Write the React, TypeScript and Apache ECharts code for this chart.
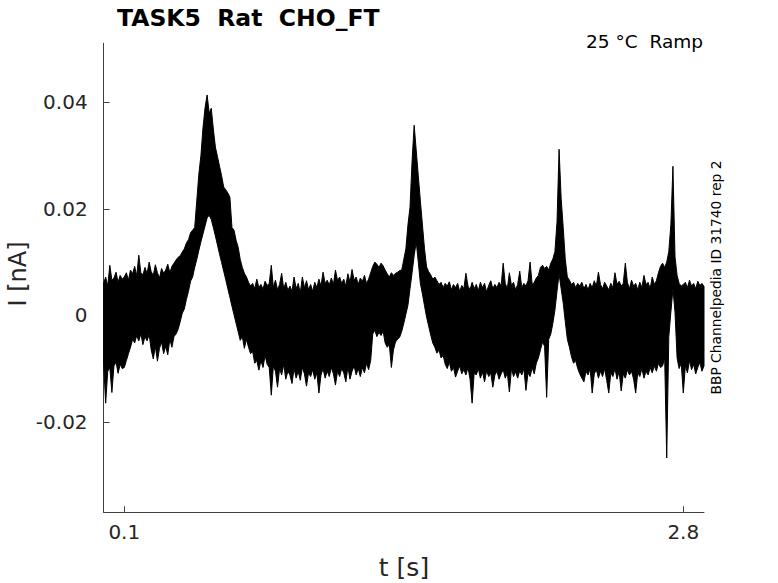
import React, { useEffect, useRef } from "react";
import * as echarts from "echarts";

// Sample times [s]
const T = [
  0.00, 0.01, 0.02, 0.03, 0.04, 0.05, 0.06, 0.07, 0.08, 0.09,
  0.10, 0.11, 0.12, 0.13, 0.14, 0.15, 0.16, 0.17, 0.18, 0.19,
  0.20, 0.21, 0.22, 0.23, 0.24, 0.25, 0.26, 0.27, 0.28, 0.29,
  0.30, 0.31, 0.32, 0.33, 0.34, 0.35, 0.36, 0.37, 0.38, 0.39,
  0.40, 0.41, 0.42, 0.43, 0.44, 0.45, 0.46, 0.47, 0.48, 0.49,
  0.50, 0.51, 0.52, 0.53, 0.54, 0.55, 0.56, 0.57, 0.58, 0.59,
  0.60, 0.61, 0.62, 0.63, 0.64, 0.65, 0.66, 0.67, 0.68, 0.69,
  0.70, 0.71, 0.72, 0.73, 0.74, 0.75, 0.76, 0.77, 0.78, 0.79,
  0.80, 0.81, 0.82, 0.83, 0.84, 0.85, 0.86, 0.87, 0.88, 0.89,
  0.90, 0.91, 0.92, 0.93, 0.94, 0.95, 0.96, 0.97, 0.98, 0.99,
  1.00, 1.01, 1.02, 1.03, 1.04, 1.05, 1.06, 1.07, 1.08, 1.09,
  1.10, 1.11, 1.12, 1.13, 1.14, 1.15, 1.16, 1.17, 1.18, 1.19,
  1.20, 1.21, 1.22, 1.23, 1.24, 1.25, 1.26, 1.27, 1.28, 1.29,
  1.30, 1.31, 1.32, 1.33, 1.34, 1.35, 1.36, 1.37, 1.38, 1.39,
  1.40, 1.41, 1.42, 1.43, 1.44, 1.45, 1.46, 1.47, 1.48, 1.49,
  1.50, 1.51, 1.52, 1.53, 1.54, 1.55, 1.56, 1.57, 1.58, 1.59,
  1.60, 1.61, 1.62, 1.63, 1.64, 1.65, 1.66, 1.67, 1.68, 1.69,
  1.70, 1.71, 1.72, 1.73, 1.74, 1.75, 1.76, 1.77, 1.78, 1.79,
  1.80, 1.81, 1.82, 1.83, 1.84, 1.85, 1.86, 1.87, 1.88, 1.89,
  1.90, 1.91, 1.92, 1.93, 1.94, 1.95, 1.96, 1.97, 1.98, 1.99,
  2.00, 2.01, 2.02, 2.03, 2.04, 2.05, 2.06, 2.07, 2.08, 2.09,
  2.10, 2.11, 2.12, 2.13, 2.14, 2.15, 2.16, 2.17, 2.18, 2.19,
  2.20, 2.21, 2.22, 2.23, 2.24, 2.25, 2.26, 2.27, 2.28, 2.29,
  2.30, 2.31, 2.32, 2.33, 2.34, 2.35, 2.36, 2.37, 2.38, 2.39,
  2.40, 2.41, 2.42, 2.43, 2.44, 2.45, 2.46, 2.47, 2.48, 2.49,
  2.50, 2.51, 2.52, 2.53, 2.54, 2.55, 2.56, 2.57, 2.58, 2.59,
  2.60, 2.61, 2.62, 2.63, 2.64, 2.65, 2.66, 2.67, 2.68, 2.69,
  2.70, 2.71, 2.72, 2.73, 2.74, 2.75, 2.76, 2.77, 2.78, 2.79,
  2.80, 2.81, 2.82, 2.83, 2.84, 2.85, 2.86, 2.87, 2.88, 2.89, 2.90,
];

// Upper edge of the noisy current trace [nA]
const UPPER = [
  0.0060, 0.0072, 0.0055, 0.0094, 0.0066, 0.0070, 0.0081, 0.0062, 0.0075, 0.0068,
  0.0072, 0.0080, 0.0066, 0.0085, 0.0078, 0.0092, 0.0074, 0.0113, 0.0080, 0.0076,
  0.0090, 0.0078, 0.0100, 0.0082, 0.0075, 0.0095, 0.0080, 0.0070, 0.0088, 0.0079,
  0.0085, 0.0096, 0.0080, 0.0092, 0.0098, 0.0104, 0.0109, 0.0112, 0.0119, 0.0125,
  0.0136, 0.0142, 0.0155, 0.0160, 0.0165, 0.0215, 0.0265, 0.0300, 0.0352, 0.0390,
  0.0414, 0.0380, 0.0389, 0.0350, 0.0316, 0.0298, 0.0280, 0.0262, 0.0241, 0.0236,
  0.0230, 0.0222, 0.0165, 0.0160, 0.0141, 0.0128, 0.0105, 0.0090, 0.0079, 0.0072,
  0.0062, 0.0055, 0.0060, 0.0050, 0.0068, 0.0052, 0.0058, 0.0049, 0.0064, 0.0056,
  0.0060, 0.0094, 0.0052, 0.0066, 0.0048, 0.0058, 0.0079, 0.0050, 0.0062, 0.0047,
  0.0055, 0.0045, 0.0072, 0.0050, 0.0060, 0.0042, 0.0072, 0.0052, 0.0065, 0.0048,
  0.0058, 0.0045, 0.0062, 0.0052, 0.0068, 0.0055, 0.0081, 0.0060, 0.0066, 0.0057,
  0.0070, 0.0058, 0.0085, 0.0065, 0.0072, 0.0060, 0.0068, 0.0055, 0.0078, 0.0062,
  0.0086, 0.0066, 0.0072, 0.0058, 0.0070, 0.0064, 0.0075, 0.0060, 0.0068, 0.0080,
  0.0092, 0.0100, 0.0096, 0.0090, 0.0098, 0.0093, 0.0085, 0.0078, 0.0072, 0.0080,
  0.0075, 0.0079, 0.0081, 0.0084, 0.0085, 0.0105, 0.0125, 0.0170, 0.0203, 0.0290,
  0.0357, 0.0310, 0.0262, 0.0215, 0.0170, 0.0125, 0.0091, 0.0082, 0.0076, 0.0068,
  0.0072, 0.0065, 0.0058, 0.0062, 0.0052, 0.0060, 0.0055, 0.0063, 0.0048, 0.0058,
  0.0052, 0.0060, 0.0045, 0.0056, 0.0050, 0.0079, 0.0055, 0.0048, 0.0062, 0.0050,
  0.0058, 0.0046, 0.0062, 0.0052, 0.0060, 0.0044, 0.0056, 0.0065, 0.0050, 0.0058,
  0.0052, 0.0062, 0.0055, 0.0098, 0.0060, 0.0050, 0.0080, 0.0056, 0.0062, 0.0048,
  0.0058, 0.0083, 0.0052, 0.0060, 0.0055, 0.0065, 0.0100, 0.0058, 0.0062, 0.0070,
  0.0075, 0.0090, 0.0094, 0.0088, 0.0092, 0.0085, 0.0098, 0.0106, 0.0120, 0.0175,
  0.0312, 0.0220, 0.0165, 0.0105, 0.0072, 0.0066, 0.0058, 0.0062, 0.0052, 0.0060,
  0.0055, 0.0062, 0.0050, 0.0058, 0.0048, 0.0060, 0.0052, 0.0065, 0.0055, 0.0081,
  0.0058, 0.0050, 0.0062, 0.0055, 0.0048, 0.0060, 0.0052, 0.0080, 0.0058, 0.0064,
  0.0055, 0.0060, 0.0098, 0.0062, 0.0050, 0.0066, 0.0055, 0.0060, 0.0048, 0.0062,
  0.0052, 0.0075, 0.0058, 0.0062, 0.0050, 0.0072, 0.0058, 0.0065, 0.0080, 0.0092,
  0.0098, 0.0090, 0.0100, 0.0120, 0.0170, 0.0280, 0.0110, 0.0075, 0.0060, 0.0055,
  0.0058, 0.0062, 0.0052, 0.0066, 0.0055, 0.0060, 0.0050, 0.0064, 0.0056, 0.0060, 0.0054,
];

// Lower edge of the noisy current trace [nA]
const LOWER = [
  -0.0090, -0.0165, -0.0105, -0.0098, -0.0145, -0.0095, -0.0088, -0.0109, -0.0092, -0.0100,
  -0.0098, -0.0085, -0.0072, -0.0060, -0.0045, -0.0052, -0.0038, -0.0048, -0.0035, -0.0055,
  -0.0040, -0.0048, -0.0036, -0.0065, -0.0082, -0.0058, -0.0086, -0.0062, -0.0050, -0.0072,
  -0.0058, -0.0074, -0.0045, -0.0060, -0.0040, -0.0035, -0.0026, -0.0012, 0.0004, 0.0012,
  0.0030, 0.0045, 0.0064, 0.0072, 0.0090, 0.0105, 0.0122, 0.0138, 0.0153, 0.0168,
  0.0183, 0.0188, 0.0180, 0.0165, 0.0149, 0.0132, 0.0115, 0.0099, 0.0083, 0.0067,
  0.0050, 0.0034, 0.0017, 0.0001, -0.0015, -0.0031, -0.0047, -0.0040, -0.0062, -0.0045,
  -0.0060, -0.0072, -0.0068, -0.0090, -0.0085, -0.0103, -0.0085, -0.0098, -0.0075, -0.0092,
  -0.0098, -0.0150, -0.0095, -0.0105, -0.0135, -0.0100, -0.0112, -0.0092, -0.0120, -0.0105,
  -0.0112, -0.0128, -0.0100, -0.0118, -0.0105, -0.0122, -0.0098, -0.0110, -0.0133, -0.0108,
  -0.0115, -0.0102, -0.0120, -0.0108, -0.0146, -0.0112, -0.0100, -0.0118, -0.0105, -0.0115,
  -0.0098, -0.0110, -0.0131, -0.0105, -0.0115, -0.0100, -0.0108, -0.0125, -0.0097, -0.0120,
  -0.0105, -0.0095, -0.0112, -0.0100, -0.0115, -0.0098, -0.0108, -0.0090, -0.0102, -0.0085,
  -0.0035, -0.0028, -0.0040, -0.0032, -0.0038, -0.0030, -0.0052, -0.0060, -0.0055, -0.0098,
  -0.0065, -0.0050, -0.0045, -0.0041, -0.0030, -0.0015, 0.0002, 0.0019, 0.0050, 0.0080,
  0.0112, 0.0138, 0.0100, 0.0060, 0.0040, 0.0018, -0.0003, -0.0020, -0.0037, -0.0052,
  -0.0060, -0.0071, -0.0065, -0.0080, -0.0075, -0.0092, -0.0100, -0.0088, -0.0105, -0.0098,
  -0.0116, -0.0105, -0.0095, -0.0110, -0.0102, -0.0112, -0.0098, -0.0120, -0.0165, -0.0108,
  -0.0112, -0.0100, -0.0118, -0.0106, -0.0125, -0.0104, -0.0115, -0.0108, -0.0135, -0.0112,
  -0.0105, -0.0120, -0.0110, -0.0102, -0.0118, -0.0108, -0.0144, -0.0100, -0.0115, -0.0106,
  -0.0118, -0.0104, -0.0112, -0.0100, -0.0141, -0.0108, -0.0115, -0.0098, -0.0110, -0.0090,
  -0.0080, -0.0065, -0.0050, -0.0058, -0.0154, -0.0045, -0.0035, -0.0015, 0.0010, 0.0045,
  0.0078, 0.0050, 0.0023, -0.0012, -0.0045, -0.0060, -0.0078, -0.0090, -0.0085, -0.0100,
  -0.0110, -0.0118, -0.0125, -0.0105, -0.0112, -0.0100, -0.0146, -0.0110, -0.0102, -0.0118,
  -0.0105, -0.0115, -0.0100, -0.0122, -0.0146, -0.0108, -0.0115, -0.0100, -0.0120, -0.0105,
  -0.0142, -0.0110, -0.0118, -0.0102, -0.0112, -0.0105, -0.0120, -0.0146, -0.0108, -0.0115,
  -0.0100, -0.0118, -0.0105, -0.0112, -0.0098, -0.0108, -0.0095, -0.0105, -0.0090, -0.0098,
  -0.0095, -0.0080, -0.0268, -0.0040, 0.0006, 0.0050, 0.0006, -0.0080, -0.0100, -0.0090,
  -0.0146, -0.0095, -0.0108, -0.0085, -0.0102, -0.0092, -0.0110, -0.0098, -0.0088, -0.0105, -0.0095,
];

const X_TICKS = [0.1, 2.8];
const Y_TICKS = [-0.02, 0, 0.02, 0.04];

const TITLE = "TASK5  Rat  CHO_FT";
const SUBTITLE = "25 °C  Ramp";
const SIDE_NOTE = "BBP Channelpedia ID 31740 rep 2";
const X_NAME = "t [s]";
const Y_NAME = "I [nA]";

const FONT = "DejaVu Sans";
const AXIS_COLOR = "#404040";
const TEXT_COLOR = "#262626";

export default function App() {
  const ref = useRef<HTMLDivElement>(null);

  useEffect(() => {
    if (!ref.current) return;
    const chart = echarts.init(ref.current, null, { renderer: "svg" });
    const data = T.map((t, i) => [t, UPPER[i], LOWER[i]]);

    const renderItem = (params: any, api: any) => {
      if (params.dataIndex !== 0) return null;
      const pts: number[][] = [];
      for (let i = 0; i < T.length; i++) pts.push(api.coord([T[i], UPPER[i]]));
      for (let i = T.length - 1; i >= 0; i--) pts.push(api.coord([T[i], LOWER[i]]));
      return {
        type: "polygon",
        shape: { points: pts },
        style: { fill: "#000", stroke: "#000", lineWidth: 1, lineJoin: "bevel" },
      };
    };

    chart.setOption({
      animation: false,
      backgroundColor: "#ffffff",
      grid: { left: 103.6, top: 43.3, width: 600.4, height: 469, containLabel: false },
      xAxis: {
        type: "value",
        min: 0,
        max: 2.9,
        axisLine: { show: true, onZero: false, lineStyle: { color: AXIS_COLOR, width: 1 } },
        axisTick: {
          show: true,
          inside: true,
          length: 6,
          customValues: X_TICKS,
          lineStyle: { color: AXIS_COLOR, width: 1 },
        },
        axisLabel: {
          show: true,
          customValues: X_TICKS,
          fontSize: 20,
          fontFamily: FONT,
          color: TEXT_COLOR,
          margin: 10,
          formatter: (v: number) => String(v),
        },
        splitLine: { show: false },
      },
      yAxis: {
        type: "value",
        min: -0.037,
        max: 0.0511,
        axisLine: { show: true, onZero: false, lineStyle: { color: AXIS_COLOR, width: 1 } },
        axisTick: {
          show: true,
          inside: true,
          length: 6,
          customValues: Y_TICKS,
          lineStyle: { color: AXIS_COLOR, width: 1 },
        },
        axisLabel: {
          show: true,
          customValues: Y_TICKS,
          fontSize: 20,
          fontFamily: FONT,
          color: TEXT_COLOR,
          margin: 16,
          formatter: (v: number) => (Math.abs(v) < 1e-12 ? "0" : v.toFixed(2)),
        },
        splitLine: { show: false },
      },
      series: [
        {
          type: "custom",
          renderItem,
          data,
          encode: { x: 0, y: [1, 2] },
          clip: true,
          silent: true,
        },
      ],
      graphic: [
        {
          type: "text",
          x: 117,
          y: 18,
          style: {
            text: TITLE,
            font: `bold 23.5px "${FONT}"`,
            fill: "#000",
            textAlign: "left",
            textVerticalAlign: "middle",
            verticalAlign: "middle",
          },
        },
        {
          type: "text",
          x: 703,
          y: 41,
          style: {
            text: SUBTITLE,
            font: `18.5px "${FONT}"`,
            fill: "#000",
            textAlign: "right",
            align: "right",
            textVerticalAlign: "middle",
            verticalAlign: "middle",
          },
        },
        {
          type: "text",
          x: 716,
          y: 277.5,
          rotation: Math.PI / 2,
          style: {
            text: SIDE_NOTE,
            font: `13.8px "${FONT}"`,
            fill: "#000",
            textAlign: "center",
            align: "center",
            textVerticalAlign: "middle",
            verticalAlign: "middle",
          },
        },
        {
          type: "text",
          x: 18,
          y: 274,
          rotation: Math.PI / 2,
          style: {
            text: Y_NAME,
            font: `24px "${FONT}"`,
            fill: TEXT_COLOR,
            textAlign: "center",
            align: "center",
            textVerticalAlign: "middle",
            verticalAlign: "middle",
          },
        },
        {
          type: "text",
          x: 404,
          y: 567,
          style: {
            text: X_NAME,
            font: `25px "${FONT}"`,
            fill: TEXT_COLOR,
            textAlign: "center",
            align: "center",
            textVerticalAlign: "middle",
            verticalAlign: "middle",
          },
        },
      ],
    });

    return () => chart.dispose();
  }, []);

  return (
    <div
      ref={ref}
      style={{ position: "absolute", left: 0, top: 0, width: 778, height: 583 }}
    />
  );
}
